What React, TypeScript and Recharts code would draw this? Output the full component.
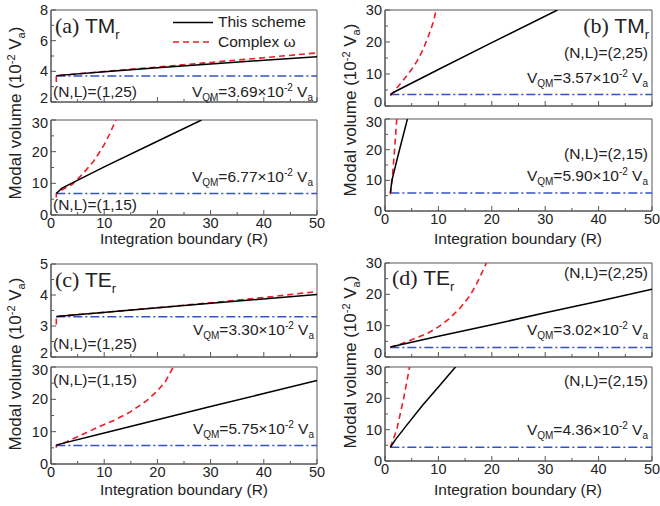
import React from 'react';
import { LineChart, Line, XAxis, YAxis, ReferenceLine, ReferenceArea } from 'recharts';

type Pt = [number, number];

// axis ticks
const R_TICKS = [0, 5, 10, 15, 20, 25, 30, 35, 40, 45, 50];
const R_LABELS = [0, 10, 20, 30, 40, 50];
const Y30_TICKS = [0, 5, 10, 15, 20, 25, 30];
const Y30_LABELS = [0, 10, 20, 30];
const Y8_TICKS = [2, 3, 4, 5, 6, 7, 8];
const Y8_LABELS = [2, 4, 6, 8];
const Y5_TICKS = [2, 2.5, 3, 3.5, 4, 4.5, 5];
const Y5_LABELS = [2, 3, 4, 5];

// (a) TM_r
const schemeA1: Pt[] = [[1, 3.72], [10, 3.97], [20, 4.23], [30, 4.48], [40, 4.72], [50, 4.95]];
const complexA1: Pt[] = [[1, 3.3], [1, 3.72], [10, 3.99], [20, 4.28], [30, 4.58], [40, 4.89], [50, 5.2]];
const schemeA2: Pt[] = [[1, 6.8], [2, 8.4], [3, 9.3], [10, 15.2], [20, 23.3], [28.3, 30]];
const complexA2: Pt[] = [[1, 5.5], [1, 6.8], [2, 7.9], [3, 8.8], [4, 9.7], [6, 13], [8, 17], [9, 19.5], [10, 22.2], [11, 25.5], [12.2, 30]];

// (b) TM_r
const schemeB1: Pt[] = [[1, 3.6], [2, 4.6], [10, 11.4], [20, 19.8], [32.3, 30]];
const complexB1: Pt[] = [[1, 3.2], [2, 5.2], [3, 7.2], [4, 9.3], [5, 11.5], [6, 14], [7, 17.2], [8, 21.2], [9, 26], [9.6, 30]];
const schemeB2: Pt[] = [[1, 5.9], [1.3, 10], [2.5, 18.5], [4.2, 30]];
const complexB2: Pt[] = [[1, 5.4], [1.4, 11.5], [1.8, 20], [2.2, 30]];

// (c) TE_r
const schemeC1: Pt[] = [[1, 3.31], [25, 3.66], [50, 4.02]];
const complexC1: Pt[] = [[1, 3.05], [1, 3.31], [10, 3.44], [20, 3.59], [30, 3.75], [40, 3.92], [50, 4.11]];
const schemeC2: Pt[] = [[1, 5.8], [2, 6.3], [10, 9.6], [20, 13.7], [30, 17.8], [40, 21.8], [50, 25.8]];
const complexC2: Pt[] = [[1, 5.0], [1, 5.8], [3, 6.9], [6, 9.2], [9, 11.5], [12, 13.6], [15, 16.2], [18, 19.6], [20, 22.6], [21.5, 25.5], [23, 30]];

// (d) TE_r
const schemeD1: Pt[] = [[1, 3.2], [10, 6.6], [20, 10.3], [30, 14.1], [40, 17.8], [50, 21.6]];
const complexD1: Pt[] = [[1, 3.0], [3, 4.2], [5, 5.5], [8, 7.6], [10, 9.6], [12, 12.2], [14, 15.5], [16, 19.8], [17.5, 24.5], [19, 30]];
const schemeD2: Pt[] = [[1, 4.4], [2, 6.9], [4, 11.3], [7, 17.7], [10, 23.6], [13.2, 30]];
const complexD2: Pt[] = [[1, 4.3], [2.2, 10], [3.5, 20], [4.6, 30]];

// quasi-mode volumes
const VQM_A1 = 3.69;
const VQM_A2 = 6.77;
const VQM_B1 = 3.57;
const VQM_B2 = 5.9;
const VQM_C1 = 3.3;
const VQM_C2 = 5.75;
const VQM_D1 = 3.02;
const VQM_D2 = 4.36;

const FRAME = '#555';
const RED = '#ee1c25';
const BLUE = '#3352c4';
const SANS = '"Liberation Sans", Arial, sans-serif';
const SERIF = '"Liberation Serif", "Times New Roman", serif';
const TM = 6;

const rows = (pts: Pt[]) => pts.map(([x, y]) => ({ x, y }));

function XTick(props: any) {
  const { x, y, payload, showLabel } = props;
  const axisY = y - TM;
  const v = payload.value;
  const major = R_LABELS.includes(v);
  return (
    <g>
      <line x1={x} x2={x} y1={axisY} y2={axisY - (major ? 5 : 3)} stroke={FRAME} />
      {showLabel && major && (
        <text x={x} y={axisY + 13} textAnchor="middle" fontSize={14.5} fill="#222" fontFamily={SANS}>
          {v}
        </text>
      )}
    </g>
  );
}

function YTick(props: any) {
  const { x, y, payload, labels, shift } = props;
  const axisX = x + TM;
  const v = payload.value;
  const major = labels.includes(v);
  // keep the end labels of stacked plots apart
  let dy = 0;
  if (shift === 'up' && v === labels[0]) dy = -4;
  if (shift === 'down' && v === labels[labels.length - 1]) dy = 3;
  return (
    <g>
      <line x1={axisX} x2={axisX + (major ? 5 : 3)} y1={y} y2={y} stroke={FRAME} />
      {major && (
        <text x={axisX - 3} y={y + 5 + dy} textAnchor="end" fontSize={14.5} fill="#222" fontFamily={SANS}>
          {v}
        </text>
      )}
    </g>
  );
}

interface PlotProps {
  left: number;
  right: number;
  top: number;
  bottom: number;
  yDomain: [number, number];
  yTicks: number[];
  yLabels: number[];
  showX: boolean;
  scheme: Pt[];
  complex: Pt[];
  vqm: number;
}

function SubPlot({ left, right, top, bottom, yDomain, yTicks, yLabels, showX, scheme, complex, vqm }: PlotProps) {
  const ML = 50;
  const MT = 10;
  const MR = 16;
  const XH = 30;
  const w = right - left;
  const h = bottom - top;
  const shift = showX ? 'down' : 'up';
  return (
    <div style={{ position: 'absolute', left: left - ML, top: top - MT }}>
      <LineChart width={ML + w + MR} height={MT + h + XH} margin={{ top: MT, right: MR, left: 0, bottom: 0 }}>
        <XAxis
          type="number"
          dataKey="x"
          domain={[0, 50]}
          ticks={R_TICKS}
          interval={0}
          allowDataOverflow
          height={XH}
          tickSize={0}
          tickMargin={TM}
          tickLine={false}
          axisLine={{ stroke: FRAME }}
          tick={(p: any) => <XTick {...p} showLabel={showX} />}
        />
        <YAxis
          type="number"
          dataKey="y"
          domain={yDomain}
          ticks={yTicks}
          interval={0}
          allowDataOverflow
          width={ML}
          tickSize={0}
          tickMargin={TM}
          tickLine={false}
          axisLine={{ stroke: FRAME }}
          tick={(p: any) => <YTick {...p} labels={yLabels} shift={shift} />}
        />
        <ReferenceArea x1={0} x2={50} y1={yDomain[0]} y2={yDomain[1]} fill="none" stroke={FRAME} strokeWidth={1} />
        <ReferenceLine
          segment={[{ x: 1, y: vqm }, { x: 50, y: vqm }]}
          stroke={BLUE}
          strokeWidth={1.5}
          strokeDasharray="9 3 2 3"
        />
        <Line data={rows(complex)} dataKey="y" type="linear" stroke={RED} strokeWidth={1.6} strokeDasharray="6 4" dot={false} isAnimationActive={false} />
        <Line data={rows(scheme)} dataKey="y" type="linear" stroke="#000" strokeWidth={1.5} dot={false} isAnimationActive={false} />
      </LineChart>
    </div>
  );
}

function VText({ x, y, value }: { x: number; y: number; value: string }) {
  return (
    <text x={x} y={y} textAnchor="end" fontSize={15.5} fill="#222" fontFamily={SANS}>
      V<tspan fontSize={10} dy={4}>QM</tspan>
      <tspan dy={-4}>={value}×10</tspan>
      <tspan fontSize={10} dy={-6}>-2</tspan>
      <tspan dy={6}> V</tspan>
      <tspan fontSize={10} dy={4}>a</tspan>
    </text>
  );
}

function NL({ x, y, value, anchor = 'start' }: { x: number; y: number; value: string; anchor?: 'start' | 'end' }) {
  return (
    <text x={x} y={y} textAnchor={anchor} fontSize={15.5} fill="#222" fontFamily={SANS}>
      (N,L)=({value})
    </text>
  );
}

function Title({ x, y, tag, mode, anchor = 'start' }: { x: number; y: number; tag: string; mode: string; anchor?: 'start' | 'end' }) {
  return (
    <text x={x} y={y} textAnchor={anchor} fill="#222">
      <tspan fontFamily={SERIF} fontSize={22}>({tag})</tspan>
      <tspan fontFamily={SANS} fontSize={21}> {mode}</tspan>
      <tspan fontFamily={SANS} fontSize={13} dy={6}>r</tspan>
    </text>
  );
}

function YLabel({ x, y }: { x: number; y: number }) {
  return (
    <text x={x} y={y} transform={`rotate(-90, ${x}, ${y})`} textAnchor="middle" fontSize={17} fill="#222" fontFamily={SANS}>
      Modal volume (10<tspan fontSize={11} dy={-6}>-2</tspan>
      <tspan dy={6}> V</tspan>
      <tspan fontSize={11} dy={4}>a</tspan>
      <tspan dy={-4}>)</tspan>
    </text>
  );
}

function XLabel({ x, y }: { x: number; y: number }) {
  return (
    <text x={x} y={y} textAnchor="middle" fontSize={15.5} fill="#222" fontFamily={SANS}>
      Integration boundary (R)
    </text>
  );
}

export default function App() {
  return (
    <div style={{ position: 'absolute', left: 0, top: 0, width: 660, height: 506, background: '#fff', overflow: 'hidden' }}>
      <SubPlot left={51} right={317} top={10} bottom={102} yDomain={[2, 8]} yTicks={Y8_TICKS} yLabels={Y8_LABELS} showX={false} scheme={schemeA1} complex={complexA1} vqm={VQM_A1} />
      <SubPlot left={51} right={317} top={120} bottom={215} yDomain={[0, 30]} yTicks={Y30_TICKS} yLabels={Y30_LABELS} showX scheme={schemeA2} complex={complexA2} vqm={VQM_A2} />
      <SubPlot left={385} right={652} top={10} bottom={106} yDomain={[0, 30]} yTicks={Y30_TICKS} yLabels={Y30_LABELS} showX={false} scheme={schemeB1} complex={complexB1} vqm={VQM_B1} />
      <SubPlot left={385} right={652} top={119} bottom={211} yDomain={[0, 30]} yTicks={Y30_TICKS} yLabels={Y30_LABELS} showX scheme={schemeB2} complex={complexB2} vqm={VQM_B2} />
      <SubPlot left={51} right={317} top={264} bottom={357} yDomain={[2, 5]} yTicks={Y5_TICKS} yLabels={Y5_LABELS} showX={false} scheme={schemeC1} complex={complexC1} vqm={VQM_C1} />
      <SubPlot left={51} right={317} top={367} bottom={464} yDomain={[0, 30]} yTicks={Y30_TICKS} yLabels={Y30_LABELS} showX scheme={schemeC2} complex={complexC2} vqm={VQM_C2} />
      <SubPlot left={385} right={652} top={263} bottom={357} yDomain={[0, 30]} yTicks={Y30_TICKS} yLabels={Y30_LABELS} showX={false} scheme={schemeD1} complex={complexD1} vqm={VQM_D1} />
      <SubPlot left={385} right={652} top={367} bottom={461} yDomain={[0, 30]} yTicks={Y30_TICKS} yLabels={Y30_LABELS} showX scheme={schemeD2} complex={complexD2} vqm={VQM_D2} />

      <svg width={660} height={506} style={{ position: 'absolute', left: 0, top: 0, pointerEvents: 'none' }}>
        {/* panel (a) */}
        <Title x={55} y={33} tag="a" mode="TM" />
        <line x1={173} x2={213} y1={22.5} y2={22.5} stroke="#000" strokeWidth={1.5} />
        <text x={218} y={27} fontSize={15.5} fill="#222" fontFamily={SANS}>This scheme</text>
        <line x1={173} x2={213} y1={42} y2={42} stroke={RED} strokeWidth={1.6} strokeDasharray="6 4" />
        <text x={218} y={46.5} fontSize={15.5} fill="#222" fontFamily={SANS}>Complex ω</text>
        <NL x={53} y={97} value="1,25" />
        <VText x={313} y={97} value="3.69" />
        <VText x={313} y={182} value="6.77" />
        <NL x={53} y={210} value="1,15" />

        {/* panel (b) */}
        <Title x={649} y={33} tag="b" mode="TM" anchor="end" />
        <NL x={648} y={58} value="2,25" anchor="end" />
        <VText x={648} y={83} value="3.57" />
        <NL x={648} y={159} value="2,15" anchor="end" />
        <VText x={648} y={181} value="5.90" />

        {/* panel (c) */}
        <Title x={55} y={287} tag="c" mode="TE" />
        <VText x={314} y={335} value="3.30" />
        <NL x={53} y={349} value="1,25" />
        <NL x={53} y={385} value="1,15" />
        <VText x={314} y={434} value="5.75" />

        {/* panel (d) */}
        <Title x={392} y={285} tag="d" mode="TE" />
        <NL x={648} y={278} value="2,25" anchor="end" />
        <VText x={648} y={335} value="3.02" />
        <NL x={648} y={386} value="2,15" anchor="end" />
        <VText x={648} y={435} value="4.36" />

        <YLabel x={21} y={113} />
        <YLabel x={356} y={110} />
        <YLabel x={21} y={364} />
        <YLabel x={356} y={362} />
        <XLabel x={184} y={244} />
        <XLabel x={518} y={244} />
        <XLabel x={184} y={495} />
        <XLabel x={518} y={495} />
      </svg>
    </div>
  );
}
